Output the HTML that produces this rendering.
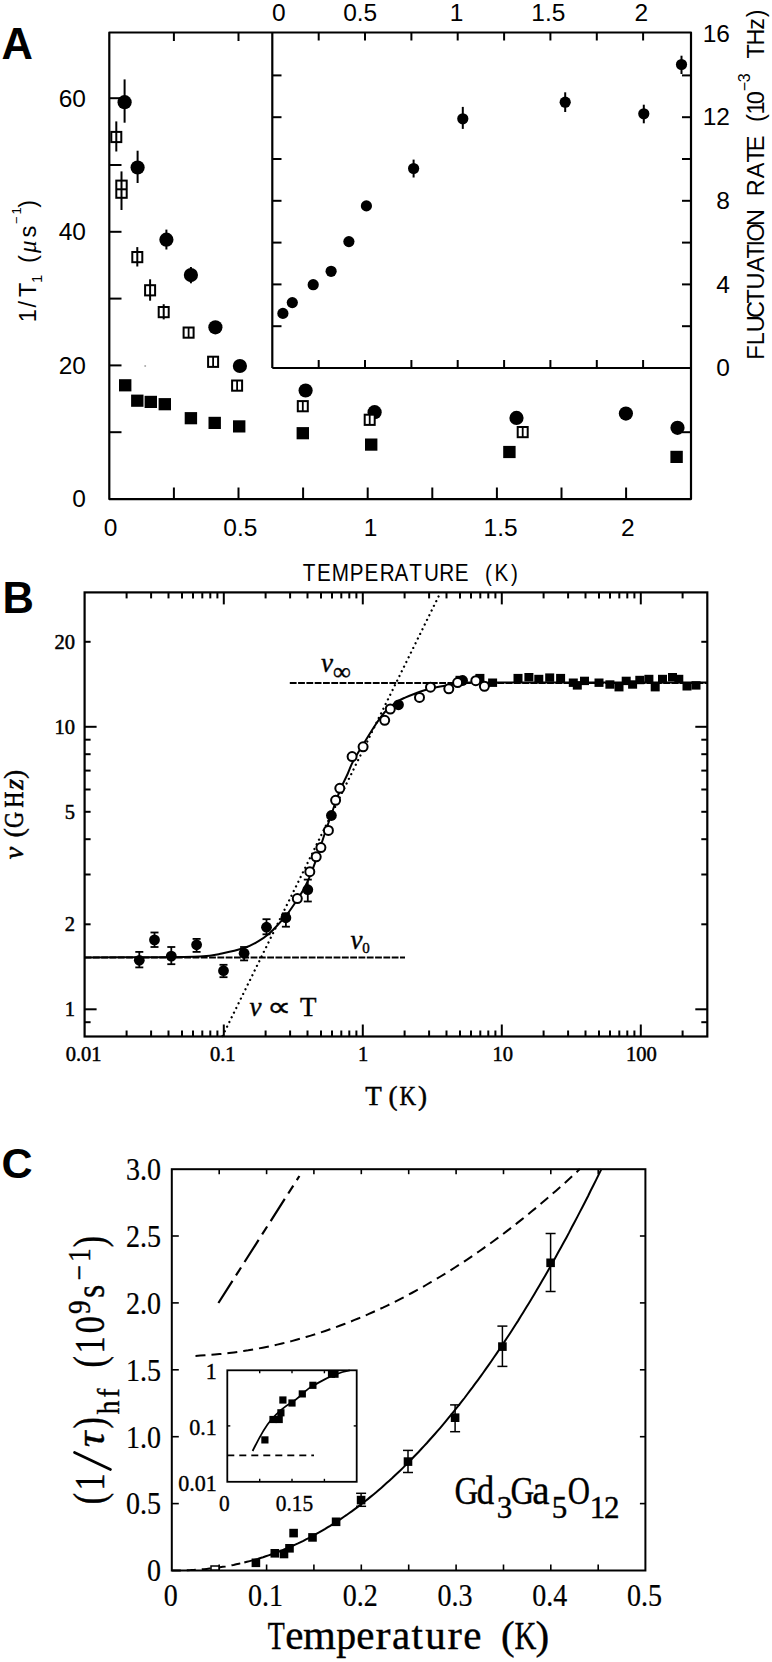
<!DOCTYPE html>
<html><head><meta charset="utf-8"><style>
html,body{margin:0;padding:0;background:#fff;}
svg{display:block;}
</style></head><body>
<svg width="772" height="1662" viewBox="0 0 772 1662">
<rect width="772" height="1662" fill="#fff"/>
<g stroke="#000" fill="none">
<rect x="109.3" y="32.5" width="581.7" height="466.6" stroke-width="2.2" stroke-linejoin="round"/>
<line x1="272.3" y1="32.5" x2="272.3" y2="368.0" stroke-width="2.2" />
<line x1="272.3" y1="368.0" x2="691.0" y2="368.0" stroke-width="2.2" />
<line x1="109.3" y1="432.2" x2="121.5" y2="432.2" stroke-width="2" />
<line x1="109.3" y1="365.4" x2="121.5" y2="365.4" stroke-width="2" />
<line x1="109.3" y1="298.6" x2="121.5" y2="298.6" stroke-width="2" />
<line x1="109.3" y1="231.8" x2="121.5" y2="231.8" stroke-width="2" />
<line x1="109.3" y1="165.0" x2="121.5" y2="165.0" stroke-width="2" />
<line x1="109.3" y1="98.2" x2="121.5" y2="98.2" stroke-width="2" />
<line x1="691.0" y1="432.2" x2="682.0" y2="432.2" stroke-width="2" />
<line x1="173.9" y1="498.7" x2="173.9" y2="487.5" stroke-width="2" />
<line x1="238.5" y1="498.7" x2="238.5" y2="487.5" stroke-width="2" />
<line x1="303.1" y1="498.7" x2="303.1" y2="487.5" stroke-width="2" />
<line x1="367.7" y1="498.7" x2="367.7" y2="487.5" stroke-width="2" />
<line x1="432.3" y1="498.7" x2="432.3" y2="487.5" stroke-width="2" />
<line x1="496.9" y1="498.7" x2="496.9" y2="487.5" stroke-width="2" />
<line x1="561.5" y1="498.7" x2="561.5" y2="487.5" stroke-width="2" />
<line x1="626.1" y1="498.7" x2="626.1" y2="487.5" stroke-width="2" />
<line x1="173.9" y1="32.5" x2="173.9" y2="41.0" stroke-width="2" />
<line x1="238.5" y1="32.5" x2="238.5" y2="41.0" stroke-width="2" />
<line x1="318.7" y1="32.5" x2="318.7" y2="40.5" stroke-width="2" />
<line x1="318.7" y1="368.0" x2="318.7" y2="360.0" stroke-width="2" />
<line x1="365.0" y1="32.5" x2="365.0" y2="40.5" stroke-width="2" />
<line x1="365.0" y1="368.0" x2="365.0" y2="360.0" stroke-width="2" />
<line x1="411.4" y1="32.5" x2="411.4" y2="40.5" stroke-width="2" />
<line x1="411.4" y1="368.0" x2="411.4" y2="360.0" stroke-width="2" />
<line x1="457.7" y1="32.5" x2="457.7" y2="40.5" stroke-width="2" />
<line x1="457.7" y1="368.0" x2="457.7" y2="360.0" stroke-width="2" />
<line x1="504.1" y1="32.5" x2="504.1" y2="40.5" stroke-width="2" />
<line x1="504.1" y1="368.0" x2="504.1" y2="360.0" stroke-width="2" />
<line x1="550.4" y1="32.5" x2="550.4" y2="40.5" stroke-width="2" />
<line x1="550.4" y1="368.0" x2="550.4" y2="360.0" stroke-width="2" />
<line x1="596.8" y1="32.5" x2="596.8" y2="40.5" stroke-width="2" />
<line x1="596.8" y1="368.0" x2="596.8" y2="360.0" stroke-width="2" />
<line x1="643.1" y1="32.5" x2="643.1" y2="40.5" stroke-width="2" />
<line x1="643.1" y1="368.0" x2="643.1" y2="360.0" stroke-width="2" />
<line x1="272.3" y1="326.2" x2="281.5" y2="326.2" stroke-width="2" />
<line x1="691.0" y1="326.2" x2="682.0" y2="326.2" stroke-width="2" />
<line x1="272.3" y1="284.4" x2="281.5" y2="284.4" stroke-width="2" />
<line x1="691.0" y1="284.4" x2="682.0" y2="284.4" stroke-width="2" />
<line x1="272.3" y1="242.6" x2="281.5" y2="242.6" stroke-width="2" />
<line x1="691.0" y1="242.6" x2="682.0" y2="242.6" stroke-width="2" />
<line x1="272.3" y1="200.8" x2="281.5" y2="200.8" stroke-width="2" />
<line x1="691.0" y1="200.8" x2="682.0" y2="200.8" stroke-width="2" />
<line x1="272.3" y1="159.0" x2="281.5" y2="159.0" stroke-width="2" />
<line x1="691.0" y1="159.0" x2="682.0" y2="159.0" stroke-width="2" />
<line x1="272.3" y1="117.2" x2="281.5" y2="117.2" stroke-width="2" />
<line x1="691.0" y1="117.2" x2="682.0" y2="117.2" stroke-width="2" />
<line x1="272.3" y1="75.4" x2="281.5" y2="75.4" stroke-width="2" />
<line x1="691.0" y1="75.4" x2="682.0" y2="75.4" stroke-width="2" />
</g>
<text x="1.6" y="58.8" font-size="43.5" font-family='"Liberation Sans", sans-serif' text-anchor="start" font-weight="bold">A</text>
<text x="86.0" y="507.4" font-size="24.5" font-family='"Liberation Sans", sans-serif' text-anchor="end" >0</text>
<text x="86.0" y="373.8" font-size="24.5" font-family='"Liberation Sans", sans-serif' text-anchor="end" >20</text>
<text x="86.0" y="240.2" font-size="24.5" font-family='"Liberation Sans", sans-serif' text-anchor="end" >40</text>
<text x="86.0" y="106.6" font-size="24.5" font-family='"Liberation Sans", sans-serif' text-anchor="end" >60</text>
<text x="110.6" y="536.3" font-size="24.5" font-family='"Liberation Sans", sans-serif' text-anchor="middle" >0</text>
<text x="240.4" y="536.3" font-size="24.5" font-family='"Liberation Sans", sans-serif' text-anchor="middle" >0.5</text>
<text x="370.6" y="536.3" font-size="24.5" font-family='"Liberation Sans", sans-serif' text-anchor="middle" >1</text>
<text x="500.6" y="536.3" font-size="24.5" font-family='"Liberation Sans", sans-serif' text-anchor="middle" >1.5</text>
<text x="627.8" y="536.3" font-size="24.5" font-family='"Liberation Sans", sans-serif' text-anchor="middle" >2</text>
<text x="278.7" y="21.2" font-size="24.5" font-family='"Liberation Sans", sans-serif' text-anchor="middle" >0</text>
<text x="360.2" y="21.2" font-size="24.5" font-family='"Liberation Sans", sans-serif' text-anchor="middle" >0.5</text>
<text x="456.6" y="21.2" font-size="24.5" font-family='"Liberation Sans", sans-serif' text-anchor="middle" >1</text>
<text x="548.3" y="21.2" font-size="24.5" font-family='"Liberation Sans", sans-serif' text-anchor="middle" >1.5</text>
<text x="641.2" y="21.2" font-size="24.5" font-family='"Liberation Sans", sans-serif' text-anchor="middle" >2</text>
<text x="730.0" y="376.2" font-size="24.5" font-family='"Liberation Sans", sans-serif' text-anchor="end" >0</text>
<text x="730.0" y="292.6" font-size="24.5" font-family='"Liberation Sans", sans-serif' text-anchor="end" >4</text>
<text x="730.0" y="209.0" font-size="24.5" font-family='"Liberation Sans", sans-serif' text-anchor="end" >8</text>
<text x="730.0" y="125.4" font-size="24.5" font-family='"Liberation Sans", sans-serif' text-anchor="end" >12</text>
<text x="730.0" y="41.8" font-size="24.5" font-family='"Liberation Sans", sans-serif' text-anchor="end" >16</text>
<g transform="translate(0,581.3)" font-family='"Liberation Sans", sans-serif' text-anchor="middle" >
<text transform="translate(309.0,0.0) scale(0.88,1)" font-size="23.5">T</text>
<text transform="translate(323.9,0.0) scale(0.88,1)" font-size="23.5">E</text>
<text transform="translate(340.4,0.0) scale(0.88,1)" font-size="23.5">M</text>
<text transform="translate(356.6,0.0) scale(0.88,1)" font-size="23.5">P</text>
<text transform="translate(371.5,0.0) scale(0.88,1)" font-size="23.5">E</text>
<text transform="translate(387.1,0.0) scale(0.88,1)" font-size="23.5">R</text>
<text transform="translate(401.5,0.0) scale(0.88,1)" font-size="23.5">A</text>
<text transform="translate(415.5,0.0) scale(0.88,1)" font-size="23.5">T</text>
<text transform="translate(431.4,0.0) scale(0.88,1)" font-size="23.5">U</text>
<text transform="translate(446.6,0.0) scale(0.88,1)" font-size="23.5">R</text>
<text transform="translate(461.7,0.0) scale(0.88,1)" font-size="23.5">E</text>
<text transform="translate(488.4,0.0) scale(0.88,1)" font-size="23.5">(</text>
<text transform="translate(501.4,0.0) scale(0.88,1)" font-size="23.5">K</text>
<text transform="translate(514.4,0.0) scale(0.88,1)" font-size="23.5">)</text>
</g>
<circle cx="145.2" cy="366" r="1" fill="#aaa"/>
<g transform="translate(36.2,320) rotate(-90)" font-family='"Liberation Sans", sans-serif' text-anchor="middle" >
<text x="4.2" y="0.0" font-size="23.5">1</text>
<text x="15.8" y="0.0" font-size="23.5">/</text>
<text x="30.1" y="0.0" font-size="23.5">T</text>
<text x="41.2" y="6.1" font-size="15">1</text>
<text x="60.9" y="0.0" font-size="23.5">(</text>
<text x="88.3" y="0.0" font-size="23.5">s</text>
<text x="99.8" y="-15.5" font-size="13">−</text>
<text x="109.1" y="-15.5" font-size="13">1</text>
<text x="116.2" y="0.0" font-size="23.5">)</text>
</g>
<g transform="translate(36.2,320) rotate(-90)" font-family='"Liberation Serif", serif' text-anchor="middle" >
<text x="73.2" y="0.0" font-size="25" font-style="italic">μ</text>
</g>
<g transform="translate(764.3,360) rotate(-90)" font-family='"Liberation Sans", sans-serif' text-anchor="middle" >
<text x="7.5" y="0.0" font-size="23.5">F</text>
<text x="21.2" y="0.0" font-size="23.5">L</text>
<text x="36.2" y="0.0" font-size="23.5">U</text>
<text x="50.4" y="0.0" font-size="23.5">C</text>
<text x="63.8" y="0.0" font-size="23.5">T</text>
<text x="79.1" y="0.0" font-size="23.5">U</text>
<text x="95.5" y="0.0" font-size="23.5">A</text>
<text x="108.6" y="0.0" font-size="23.5">T</text>
<text x="116.7" y="0.0" font-size="23.5">I</text>
<text x="127.6" y="0.0" font-size="23.5">O</text>
<text x="142.6" y="0.0" font-size="23.5">N</text>
<text x="172.3" y="0.0" font-size="23.5">R</text>
<text x="189.5" y="0.0" font-size="23.5">A</text>
<text x="204.8" y="0.0" font-size="23.5">T</text>
<text x="216.6" y="0.0" font-size="23.5">E</text>
<text x="241.9" y="0.0" font-size="23.5">(</text>
<text x="252.1" y="0.0" font-size="23.5">1</text>
<text x="262.4" y="0.0" font-size="23.5">0</text>
<text x="308.8" y="0.0" font-size="23.5">T</text>
<text x="323.0" y="0.0" font-size="23.5">H</text>
<text x="336.2" y="0.0" font-size="23.5">z</text>
<text x="346.7" y="0.0" font-size="23.5">)</text>
<text x="273.5" y="-14.2" font-size="16">−</text>
<text x="282.2" y="-14.2" font-size="16">3</text>
</g>
<g fill="#000" stroke="#000">
<line x1="124.6" y1="79.4" x2="124.6" y2="122.7" stroke-width="2" />
<circle cx="124.6" cy="102.2" r="7.1" stroke="none"/>
<line x1="137.6" y1="150.7" x2="137.6" y2="183.0" stroke-width="2" />
<circle cx="137.6" cy="167.5" r="7.1" stroke="none"/>
<line x1="166.4" y1="229.6" x2="166.4" y2="249.5" stroke-width="2" />
<circle cx="166.4" cy="239.7" r="7.1" stroke="none"/>
<line x1="190.9" y1="267.0" x2="190.9" y2="283.3" stroke-width="2" />
<circle cx="190.9" cy="275.1" r="7.1" stroke="none"/>
<circle cx="215.4" cy="327.3" r="7.1" stroke="none"/>
<circle cx="239.9" cy="366" r="7.1" stroke="none"/>
<circle cx="305.6" cy="390.5" r="7.1" stroke="none"/>
<circle cx="374.6" cy="412.2" r="7.1" stroke="none"/>
<circle cx="516.5" cy="417.9" r="7.1" stroke="none"/>
<circle cx="625.9" cy="413.6" r="7.1" stroke="none"/>
<circle cx="677.5" cy="427.8" r="7.1" stroke="none"/>
<rect x="119.0" y="379.2" width="12.4" height="12.2" stroke="none"/>
<rect x="131.1" y="394.6" width="12.4" height="12.2" stroke="none"/>
<rect x="144.6" y="395.8" width="12.4" height="12.2" stroke="none"/>
<rect x="158.6" y="398.1" width="12.4" height="12.2" stroke="none"/>
<rect x="184.7" y="412.1" width="12.4" height="12.2" stroke="none"/>
<rect x="208.5" y="416.8" width="12.4" height="12.2" stroke="none"/>
<rect x="233.0" y="420.3" width="12.4" height="12.2" stroke="none"/>
<rect x="296.6" y="427.1" width="12.4" height="12.2" stroke="none"/>
<rect x="365.0" y="438.5" width="12.4" height="12.2" stroke="none"/>
<rect x="503.2" y="445.9" width="12.4" height="12.2" stroke="none"/>
<rect x="670.4" y="450.8" width="12.4" height="12.2" stroke="none"/>
<circle cx="282.9" cy="313.4" r="5.6" stroke="none"/>
<circle cx="292.3" cy="302.6" r="5.6" stroke="none"/>
<circle cx="313.2" cy="284.7" r="5.6" stroke="none"/>
<circle cx="331.1" cy="271.3" r="5.6" stroke="none"/>
<circle cx="348.9" cy="241.6" r="5.6" stroke="none"/>
<circle cx="366.4" cy="205.9" r="5.6" stroke="none"/>
<line x1="413.6" y1="159.6" x2="413.6" y2="177.5" stroke-width="2" />
<circle cx="413.6" cy="168.5" r="5.6" stroke="none"/>
<line x1="462.8" y1="106.9" x2="462.8" y2="128.9" stroke-width="2" />
<circle cx="462.8" cy="118.8" r="5.6" stroke="none"/>
<line x1="565.2" y1="92.3" x2="565.2" y2="112.0" stroke-width="2" />
<circle cx="565.2" cy="102.2" r="5.6" stroke="none"/>
<line x1="643.8" y1="104.7" x2="643.8" y2="123.3" stroke-width="2" />
<circle cx="643.8" cy="113.8" r="5.6" stroke="none"/>
<line x1="681.5" y1="55.7" x2="681.5" y2="74.0" stroke-width="2" />
<circle cx="681.5" cy="64.5" r="5.6" stroke="none"/>
</g>
<g fill="#fff" stroke="#000">
<rect x="111.3" y="131.9" width="10" height="10.2" stroke-width="2"/>
<line x1="116.3" y1="121.4" x2="116.3" y2="151.5" stroke-width="2" />
<rect x="132.3" y="252.0" width="10" height="10.2" stroke-width="2"/>
<line x1="137.3" y1="247.1" x2="137.3" y2="266.5" stroke-width="2" />
<rect x="145.1" y="285.2" width="10" height="10.2" stroke-width="2"/>
<line x1="150.1" y1="279.3" x2="150.1" y2="300.7" stroke-width="2" />
<rect x="158.7" y="307.0" width="10" height="10.2" stroke-width="2"/>
<line x1="163.7" y1="304.2" x2="163.7" y2="319.4" stroke-width="2" />
<rect x="183.6" y="327.5" width="10" height="10.2" stroke-width="2"/>
<line x1="188.6" y1="327.5" x2="188.6" y2="337.7" stroke-width="1.8" />
<rect x="208.1" y="356.7" width="10" height="10.2" stroke-width="2"/>
<line x1="213.1" y1="356.7" x2="213.1" y2="366.9" stroke-width="1.8" />
<rect x="232.1" y="380.5" width="10" height="10.2" stroke-width="2"/>
<line x1="237.1" y1="380.5" x2="237.1" y2="390.7" stroke-width="1.8" />
<rect x="297.8" y="401.1" width="10" height="10.2" stroke-width="2"/>
<line x1="302.8" y1="401.1" x2="302.8" y2="411.3" stroke-width="1.8" />
<rect x="364.7" y="414.7" width="10" height="10.2" stroke-width="2"/>
<line x1="369.7" y1="414.7" x2="369.7" y2="424.9" stroke-width="1.8" />
<rect x="517.7" y="427.0" width="10" height="10.2" stroke-width="2"/>
<line x1="522.7" y1="427.0" x2="522.7" y2="437.2" stroke-width="1.8" />
<rect x="116.3" y="180.6" width="10.4" height="17.2" stroke-width="2"/>
<line x1="116.3" y1="189.3" x2="126.7" y2="189.3" stroke-width="2" />
<line x1="121.5" y1="171.4" x2="121.5" y2="210.0" stroke-width="2" />
</g>
<g stroke="#000" fill="none">
<rect x="84.6" y="592.4" width="622.7" height="444.1" stroke-width="2.2"/>
<line x1="126.6" y1="1036.5" x2="126.6" y2="1030.5" stroke-width="2" />
<line x1="126.6" y1="592.4" x2="126.6" y2="598.4" stroke-width="2" />
<line x1="151.1" y1="1036.5" x2="151.1" y2="1030.5" stroke-width="2" />
<line x1="151.1" y1="592.4" x2="151.1" y2="598.4" stroke-width="2" />
<line x1="168.5" y1="1036.5" x2="168.5" y2="1030.5" stroke-width="2" />
<line x1="168.5" y1="592.4" x2="168.5" y2="598.4" stroke-width="2" />
<line x1="182.0" y1="1036.5" x2="182.0" y2="1030.5" stroke-width="2" />
<line x1="182.0" y1="592.4" x2="182.0" y2="598.4" stroke-width="2" />
<line x1="193.0" y1="1036.5" x2="193.0" y2="1030.5" stroke-width="2" />
<line x1="193.0" y1="592.4" x2="193.0" y2="598.4" stroke-width="2" />
<line x1="202.3" y1="1036.5" x2="202.3" y2="1030.5" stroke-width="2" />
<line x1="202.3" y1="592.4" x2="202.3" y2="598.4" stroke-width="2" />
<line x1="210.3" y1="1036.5" x2="210.3" y2="1030.5" stroke-width="2" />
<line x1="210.3" y1="592.4" x2="210.3" y2="598.4" stroke-width="2" />
<line x1="217.4" y1="1036.5" x2="217.4" y2="1030.5" stroke-width="2" />
<line x1="217.4" y1="592.4" x2="217.4" y2="598.4" stroke-width="2" />
<line x1="223.8" y1="1036.5" x2="223.8" y2="1024.5" stroke-width="2" />
<line x1="223.8" y1="592.4" x2="223.8" y2="604.4" stroke-width="2" />
<line x1="265.6" y1="1036.5" x2="265.6" y2="1030.5" stroke-width="2" />
<line x1="265.6" y1="592.4" x2="265.6" y2="598.4" stroke-width="2" />
<line x1="290.1" y1="1036.5" x2="290.1" y2="1030.5" stroke-width="2" />
<line x1="290.1" y1="592.4" x2="290.1" y2="598.4" stroke-width="2" />
<line x1="307.5" y1="1036.5" x2="307.5" y2="1030.5" stroke-width="2" />
<line x1="307.5" y1="592.4" x2="307.5" y2="598.4" stroke-width="2" />
<line x1="321.0" y1="1036.5" x2="321.0" y2="1030.5" stroke-width="2" />
<line x1="321.0" y1="592.4" x2="321.0" y2="598.4" stroke-width="2" />
<line x1="332.0" y1="1036.5" x2="332.0" y2="1030.5" stroke-width="2" />
<line x1="332.0" y1="592.4" x2="332.0" y2="598.4" stroke-width="2" />
<line x1="341.3" y1="1036.5" x2="341.3" y2="1030.5" stroke-width="2" />
<line x1="341.3" y1="592.4" x2="341.3" y2="598.4" stroke-width="2" />
<line x1="349.3" y1="1036.5" x2="349.3" y2="1030.5" stroke-width="2" />
<line x1="349.3" y1="592.4" x2="349.3" y2="598.4" stroke-width="2" />
<line x1="356.4" y1="1036.5" x2="356.4" y2="1030.5" stroke-width="2" />
<line x1="356.4" y1="592.4" x2="356.4" y2="598.4" stroke-width="2" />
<line x1="362.8" y1="1036.5" x2="362.8" y2="1024.5" stroke-width="2" />
<line x1="362.8" y1="592.4" x2="362.8" y2="604.4" stroke-width="2" />
<line x1="404.6" y1="1036.5" x2="404.6" y2="1030.5" stroke-width="2" />
<line x1="404.6" y1="592.4" x2="404.6" y2="598.4" stroke-width="2" />
<line x1="429.1" y1="1036.5" x2="429.1" y2="1030.5" stroke-width="2" />
<line x1="429.1" y1="592.4" x2="429.1" y2="598.4" stroke-width="2" />
<line x1="446.5" y1="1036.5" x2="446.5" y2="1030.5" stroke-width="2" />
<line x1="446.5" y1="592.4" x2="446.5" y2="598.4" stroke-width="2" />
<line x1="460.0" y1="1036.5" x2="460.0" y2="1030.5" stroke-width="2" />
<line x1="460.0" y1="592.4" x2="460.0" y2="598.4" stroke-width="2" />
<line x1="471.0" y1="1036.5" x2="471.0" y2="1030.5" stroke-width="2" />
<line x1="471.0" y1="592.4" x2="471.0" y2="598.4" stroke-width="2" />
<line x1="480.3" y1="1036.5" x2="480.3" y2="1030.5" stroke-width="2" />
<line x1="480.3" y1="592.4" x2="480.3" y2="598.4" stroke-width="2" />
<line x1="488.3" y1="1036.5" x2="488.3" y2="1030.5" stroke-width="2" />
<line x1="488.3" y1="592.4" x2="488.3" y2="598.4" stroke-width="2" />
<line x1="495.4" y1="1036.5" x2="495.4" y2="1030.5" stroke-width="2" />
<line x1="495.4" y1="592.4" x2="495.4" y2="598.4" stroke-width="2" />
<line x1="501.8" y1="1036.5" x2="501.8" y2="1024.5" stroke-width="2" />
<line x1="501.8" y1="592.4" x2="501.8" y2="604.4" stroke-width="2" />
<line x1="543.6" y1="1036.5" x2="543.6" y2="1030.5" stroke-width="2" />
<line x1="543.6" y1="592.4" x2="543.6" y2="598.4" stroke-width="2" />
<line x1="568.1" y1="1036.5" x2="568.1" y2="1030.5" stroke-width="2" />
<line x1="568.1" y1="592.4" x2="568.1" y2="598.4" stroke-width="2" />
<line x1="585.5" y1="1036.5" x2="585.5" y2="1030.5" stroke-width="2" />
<line x1="585.5" y1="592.4" x2="585.5" y2="598.4" stroke-width="2" />
<line x1="599.0" y1="1036.5" x2="599.0" y2="1030.5" stroke-width="2" />
<line x1="599.0" y1="592.4" x2="599.0" y2="598.4" stroke-width="2" />
<line x1="610.0" y1="1036.5" x2="610.0" y2="1030.5" stroke-width="2" />
<line x1="610.0" y1="592.4" x2="610.0" y2="598.4" stroke-width="2" />
<line x1="619.3" y1="1036.5" x2="619.3" y2="1030.5" stroke-width="2" />
<line x1="619.3" y1="592.4" x2="619.3" y2="598.4" stroke-width="2" />
<line x1="627.3" y1="1036.5" x2="627.3" y2="1030.5" stroke-width="2" />
<line x1="627.3" y1="592.4" x2="627.3" y2="598.4" stroke-width="2" />
<line x1="634.4" y1="1036.5" x2="634.4" y2="1030.5" stroke-width="2" />
<line x1="634.4" y1="592.4" x2="634.4" y2="598.4" stroke-width="2" />
<line x1="640.8" y1="1036.5" x2="640.8" y2="1024.5" stroke-width="2" />
<line x1="640.8" y1="592.4" x2="640.8" y2="604.4" stroke-width="2" />
<line x1="682.6" y1="1036.5" x2="682.6" y2="1030.5" stroke-width="2" />
<line x1="682.6" y1="592.4" x2="682.6" y2="598.4" stroke-width="2" />
<line x1="84.6" y1="1022.2" x2="90.6" y2="1022.2" stroke-width="2" />
<line x1="707.3" y1="1022.2" x2="701.3" y2="1022.2" stroke-width="2" />
<line x1="84.6" y1="1009.3" x2="96.6" y2="1009.3" stroke-width="2" />
<line x1="707.3" y1="1009.3" x2="695.3" y2="1009.3" stroke-width="2" />
<line x1="84.6" y1="924.3" x2="90.6" y2="924.3" stroke-width="2" />
<line x1="707.3" y1="924.3" x2="701.3" y2="924.3" stroke-width="2" />
<line x1="84.6" y1="874.5" x2="90.6" y2="874.5" stroke-width="2" />
<line x1="707.3" y1="874.5" x2="701.3" y2="874.5" stroke-width="2" />
<line x1="84.6" y1="839.2" x2="90.6" y2="839.2" stroke-width="2" />
<line x1="707.3" y1="839.2" x2="701.3" y2="839.2" stroke-width="2" />
<line x1="84.6" y1="811.8" x2="90.6" y2="811.8" stroke-width="2" />
<line x1="707.3" y1="811.8" x2="701.3" y2="811.8" stroke-width="2" />
<line x1="84.6" y1="789.5" x2="90.6" y2="789.5" stroke-width="2" />
<line x1="707.3" y1="789.5" x2="701.3" y2="789.5" stroke-width="2" />
<line x1="84.6" y1="770.6" x2="90.6" y2="770.6" stroke-width="2" />
<line x1="707.3" y1="770.6" x2="701.3" y2="770.6" stroke-width="2" />
<line x1="84.6" y1="754.2" x2="90.6" y2="754.2" stroke-width="2" />
<line x1="707.3" y1="754.2" x2="701.3" y2="754.2" stroke-width="2" />
<line x1="84.6" y1="739.7" x2="90.6" y2="739.7" stroke-width="2" />
<line x1="707.3" y1="739.7" x2="701.3" y2="739.7" stroke-width="2" />
<line x1="84.6" y1="726.8" x2="96.6" y2="726.8" stroke-width="2" />
<line x1="707.3" y1="726.8" x2="695.3" y2="726.8" stroke-width="2" />
<line x1="84.6" y1="641.8" x2="90.6" y2="641.8" stroke-width="2" />
<line x1="707.3" y1="641.8" x2="701.3" y2="641.8" stroke-width="2" />
</g>
<text x="2.4" y="612.6" font-size="43.5" font-family='"Liberation Sans", sans-serif' text-anchor="start" font-weight="bold">B</text>
<text x="75.0" y="1016.3" font-size="20.5" font-family='"Liberation Serif", serif' text-anchor="end" stroke="#000" stroke-width="0.5">1</text>
<text x="75.0" y="931.3" font-size="20.5" font-family='"Liberation Serif", serif' text-anchor="end" stroke="#000" stroke-width="0.5">2</text>
<text x="75.0" y="818.8" font-size="20.5" font-family='"Liberation Serif", serif' text-anchor="end" stroke="#000" stroke-width="0.5">5</text>
<text x="75.0" y="733.8" font-size="20.5" font-family='"Liberation Serif", serif' text-anchor="end" stroke="#000" stroke-width="0.5">10</text>
<text x="75.0" y="648.8" font-size="20.5" font-family='"Liberation Serif", serif' text-anchor="end" stroke="#000" stroke-width="0.5">20</text>
<text x="83.6" y="1060.6" font-size="20.5" font-family='"Liberation Serif", serif' text-anchor="middle" stroke="#000" stroke-width="0.5">0.01</text>
<text x="222.8" y="1060.6" font-size="20.5" font-family='"Liberation Serif", serif' text-anchor="middle" stroke="#000" stroke-width="0.5">0.1</text>
<text x="363.1" y="1060.6" font-size="20.5" font-family='"Liberation Serif", serif' text-anchor="middle" stroke="#000" stroke-width="0.5">1</text>
<text x="502.8" y="1060.6" font-size="20.5" font-family='"Liberation Serif", serif' text-anchor="middle" stroke="#000" stroke-width="0.5">10</text>
<text x="641.3" y="1060.6" font-size="20.5" font-family='"Liberation Serif", serif' text-anchor="middle" stroke="#000" stroke-width="0.5">100</text>
<g transform="translate(0,1105)" font-family='"Liberation Serif", serif' text-anchor="middle" stroke="#000" stroke-width="0.5">
<text x="373.4" y="0.0" font-size="27">T</text>
<text x="393.1" y="0.0" font-size="27">(</text>
<text transform="translate(407.7,0.0) scale(0.85,1)" font-size="27">K</text>
<text x="422.4" y="0.0" font-size="27">)</text>
</g>
<g transform="translate(22.6,862) rotate(-90)" font-family='"Liberation Serif", serif' text-anchor="middle" stroke="#000" stroke-width="0.5">
<text x="8.9" y="0.0" font-size="28" font-style="italic">ν</text>
<text x="29.1" y="0.0" font-size="28">(</text>
<text transform="translate(42.0,0.0) scale(0.8,1)" font-size="28">G</text>
<text transform="translate(62.4,0.0) scale(0.8,1)" font-size="28">H</text>
<text x="77.6" y="0.0" font-size="28" font-style="italic">z</text>
<text x="87.7" y="0.0" font-size="28">)</text>
</g>
<g stroke="#000" fill="none">
<line x1="289.8" y1="682.9" x2="707.0" y2="682.9" stroke-width="2" stroke-dasharray="6.8 1.5"/>
<line x1="84.6" y1="957.5" x2="405.0" y2="957.5" stroke-width="2" stroke-dasharray="6.8 1.5"/>
<line x1="222.5" y1="1036.0" x2="440.5" y2="592.5" stroke-width="2.3" stroke-dasharray="0.01 5.2" stroke-linecap="round"/>
<path d="M84.6,957.4 C95.5,957.4 130.8,957.4 150.0,957.2 C169.2,957.1 188.0,957.1 200.0,956.5 C212.0,955.9 214.5,955.0 221.9,953.5 C229.3,952.0 238.7,949.7 244.6,947.8 C250.5,945.9 253.2,944.2 257.3,941.9 C261.4,939.6 265.4,936.9 269.0,933.8 C272.6,930.7 276.1,926.8 279.2,923.4 C282.3,920.0 284.8,917.2 287.6,913.6 C290.4,910.0 293.2,905.8 296.0,901.5 C298.8,897.2 301.9,892.7 304.4,888.0 C306.9,883.3 309.1,878.2 311.0,873.5 C312.9,868.8 314.3,864.8 316.0,860.0 C317.7,855.2 319.3,850.0 321.0,845.0 C322.7,840.0 324.3,834.9 326.0,830.0 C327.7,825.1 329.3,820.3 331.0,815.5 C332.7,810.7 334.3,805.6 336.0,801.0 C337.7,796.4 339.1,792.5 341.0,788.0 C342.9,783.5 345.6,778.4 347.6,774.0 C349.6,769.6 350.4,766.4 353.0,761.5 C355.6,756.6 359.4,750.6 363.1,744.5 C366.9,738.4 371.9,730.2 375.5,724.8 C379.1,719.4 381.5,715.7 384.9,712.0 C388.3,708.3 392.4,704.9 395.8,702.5 C399.2,700.1 401.7,699.1 405.1,697.6 C408.5,696.1 412.6,694.5 416.0,693.2 C419.4,691.9 421.7,691.0 425.3,690.0 C428.9,689.0 434.1,687.8 437.7,687.0 C441.3,686.2 443.9,685.9 447.0,685.3 C450.1,684.7 452.6,684.0 456.4,683.6 C460.2,683.2 462.7,682.8 470.0,682.6 C477.3,682.4 460.5,682.4 500.0,682.4 C539.5,682.4 672.5,682.4 707.0,682.4" stroke-width="2"/>
</g>
<text x="321" y="672" font-size="27" stroke="#000" stroke-width="0.4" font-family='"Liberation Serif", serif' font-style="italic">ν<tspan font-style="normal" font-size="25" dy="7.5">∞</tspan></text>
<g transform="translate(0,0)" font-family='"Liberation Serif", serif' text-anchor="middle" stroke="#000" stroke-width="0.4">
<text x="356.5" y="948.8" font-size="27" font-style="italic">ν</text>
<text x="365.9" y="953.4" font-size="15">0</text>
</g>
<g transform="translate(0,1016)" font-family='"Liberation Serif", serif' text-anchor="middle" stroke="#000" stroke-width="0.4">
<text x="255.5" y="0.0" font-size="27" font-style="italic">ν</text>
<text transform="translate(279.6,0.0) scale(1.25,1)" font-size="27">∝</text>
<text x="308.3" y="0.0" font-size="27">T</text>
</g>
<g fill="#000" stroke="#000">
<line x1="139.3" y1="951.9" x2="139.3" y2="967.4" stroke-width="1.8" />
<line x1="135.3" y1="951.9" x2="143.3" y2="951.9" stroke-width="1.8" />
<line x1="135.3" y1="967.4" x2="143.3" y2="967.4" stroke-width="1.8" />
<circle cx="139.3" cy="960.3" r="5.4" stroke="none"/>
<line x1="154.5" y1="932.5" x2="154.5" y2="947.0" stroke-width="1.8" />
<line x1="150.5" y1="932.5" x2="158.5" y2="932.5" stroke-width="1.8" />
<line x1="150.5" y1="947.0" x2="158.5" y2="947.0" stroke-width="1.8" />
<circle cx="154.5" cy="939.9" r="5.4" stroke="none"/>
<line x1="171.3" y1="947.0" x2="171.3" y2="964.2" stroke-width="1.8" />
<line x1="167.3" y1="947.0" x2="175.3" y2="947.0" stroke-width="1.8" />
<line x1="167.3" y1="964.2" x2="175.3" y2="964.2" stroke-width="1.8" />
<circle cx="171.3" cy="956.1" r="5.4" stroke="none"/>
<line x1="196.6" y1="938.9" x2="196.6" y2="951.9" stroke-width="1.8" />
<line x1="192.6" y1="938.9" x2="200.6" y2="938.9" stroke-width="1.8" />
<line x1="192.6" y1="951.9" x2="200.6" y2="951.9" stroke-width="1.8" />
<circle cx="196.6" cy="944.8" r="5.4" stroke="none"/>
<line x1="223.5" y1="964.8" x2="223.5" y2="977.2" stroke-width="1.8" />
<line x1="219.5" y1="964.8" x2="227.5" y2="964.8" stroke-width="1.8" />
<line x1="219.5" y1="977.2" x2="227.5" y2="977.2" stroke-width="1.8" />
<circle cx="223.5" cy="970.7" r="5.4" stroke="none"/>
<line x1="244.1" y1="947.0" x2="244.1" y2="960.4" stroke-width="1.8" />
<line x1="240.1" y1="947.0" x2="248.1" y2="947.0" stroke-width="1.8" />
<line x1="240.1" y1="960.4" x2="248.1" y2="960.4" stroke-width="1.8" />
<circle cx="244.1" cy="953.2" r="5.4" stroke="none"/>
<line x1="266.5" y1="919.2" x2="266.5" y2="934.3" stroke-width="1.8" />
<line x1="262.5" y1="919.2" x2="270.5" y2="919.2" stroke-width="1.8" />
<line x1="262.5" y1="934.3" x2="270.5" y2="934.3" stroke-width="1.8" />
<circle cx="266.5" cy="927.2" r="5.4" stroke="none"/>
<line x1="285.9" y1="913.3" x2="285.9" y2="926.7" stroke-width="1.8" />
<line x1="281.9" y1="913.3" x2="289.9" y2="913.3" stroke-width="1.8" />
<line x1="281.9" y1="926.7" x2="289.9" y2="926.7" stroke-width="1.8" />
<circle cx="285.9" cy="917.8" r="5.4" stroke="none"/>
<line x1="307.8" y1="879.6" x2="307.8" y2="901.5" stroke-width="1.8" />
<line x1="303.8" y1="879.6" x2="311.8" y2="879.6" stroke-width="1.8" />
<line x1="303.8" y1="901.5" x2="311.8" y2="901.5" stroke-width="1.8" />
<circle cx="307.8" cy="889.7" r="5.4" stroke="none"/>
<circle cx="331.4" cy="815.5" r="5.4" stroke="none"/>
<circle cx="398.5" cy="704.8" r="5.4" stroke="none"/>
<circle cx="462.6" cy="680.5" r="5.4" stroke="none"/>
<rect x="455.5" y="675.8" width="9" height="8.4" stroke="none"/>
<rect x="475.4" y="673.9" width="9" height="8.4" stroke="none"/>
<rect x="488.1" y="678.5" width="9" height="8.4" stroke="none"/>
<rect x="513.5" y="673.9" width="9" height="8.4" stroke="none"/>
<rect x="524.4" y="673.0" width="9" height="8.4" stroke="none"/>
<rect x="534.3" y="674.8" width="9" height="8.4" stroke="none"/>
<rect x="545.2" y="673.4" width="9" height="8.4" stroke="none"/>
<rect x="556.1" y="673.9" width="9" height="8.4" stroke="none"/>
<rect x="568.8" y="678.5" width="9" height="8.4" stroke="none"/>
<rect x="572.8" y="681.2" width="9" height="8.4" stroke="none"/>
<rect x="580.0" y="676.7" width="9" height="8.4" stroke="none"/>
<rect x="594.5" y="678.5" width="9" height="8.4" stroke="none"/>
<rect x="605.4" y="680.3" width="9" height="8.4" stroke="none"/>
<rect x="614.5" y="683.0" width="9" height="8.4" stroke="none"/>
<rect x="621.7" y="676.7" width="9" height="8.4" stroke="none"/>
<rect x="628.1" y="680.3" width="9" height="8.4" stroke="none"/>
<rect x="635.3" y="675.8" width="9" height="8.4" stroke="none"/>
<rect x="644.4" y="674.8" width="9" height="8.4" stroke="none"/>
<rect x="650.7" y="683.0" width="9" height="8.4" stroke="none"/>
<rect x="658.0" y="674.8" width="9" height="8.4" stroke="none"/>
<rect x="668.0" y="673.0" width="9" height="8.4" stroke="none"/>
<rect x="674.3" y="674.8" width="9" height="8.4" stroke="none"/>
<rect x="682.5" y="682.1" width="9" height="8.4" stroke="none"/>
<rect x="691.5" y="681.2" width="9" height="8.4" stroke="none"/>
</g>
<g fill="#fff" stroke="#000">
<circle cx="297.3" cy="898.6" r="4.5" stroke-width="2"/>
<circle cx="309.8" cy="871.7" r="4.5" stroke-width="2"/>
<circle cx="316.2" cy="856.8" r="4.5" stroke-width="2"/>
<circle cx="320.9" cy="847.6" r="4.5" stroke-width="2"/>
<circle cx="328.4" cy="830.4" r="4.5" stroke-width="2"/>
<circle cx="335.6" cy="800.3" r="4.5" stroke-width="2"/>
<circle cx="339.8" cy="788.3" r="4.5" stroke-width="2"/>
<circle cx="352.1" cy="756.6" r="4.5" stroke-width="2"/>
<circle cx="363.1" cy="746.8" r="4.5" stroke-width="2"/>
<circle cx="384.7" cy="720.3" r="4.5" stroke-width="2"/>
<circle cx="390.3" cy="709" r="4.5" stroke-width="2"/>
<circle cx="419.5" cy="697.4" r="4.5" stroke-width="2"/>
<circle cx="430.5" cy="687.2" r="4.5" stroke-width="2"/>
<circle cx="448.8" cy="688.8" r="4.5" stroke-width="2"/>
<circle cx="457.6" cy="682.6" r="4.5" stroke-width="2"/>
<circle cx="475.8" cy="680.7" r="4.5" stroke-width="2"/>
<circle cx="484.4" cy="686.3" r="4.5" stroke-width="2"/>
</g>
<g stroke="#000" fill="none">
<rect x="171.8" y="1169.2" width="473.6" height="401.3" stroke-width="2"/>
<line x1="219.2" y1="1570.5" x2="219.2" y2="1564.5" stroke-width="1.6" />
<line x1="219.2" y1="1169.2" x2="219.2" y2="1174.2" stroke-width="1.6" />
<line x1="266.6" y1="1570.5" x2="266.6" y2="1564.5" stroke-width="1.6" />
<line x1="266.6" y1="1169.2" x2="266.6" y2="1174.2" stroke-width="1.6" />
<line x1="313.9" y1="1570.5" x2="313.9" y2="1564.5" stroke-width="1.6" />
<line x1="313.9" y1="1169.2" x2="313.9" y2="1174.2" stroke-width="1.6" />
<line x1="361.3" y1="1570.5" x2="361.3" y2="1564.5" stroke-width="1.6" />
<line x1="361.3" y1="1169.2" x2="361.3" y2="1174.2" stroke-width="1.6" />
<line x1="408.7" y1="1570.5" x2="408.7" y2="1564.5" stroke-width="1.6" />
<line x1="408.7" y1="1169.2" x2="408.7" y2="1174.2" stroke-width="1.6" />
<line x1="456.1" y1="1570.5" x2="456.1" y2="1564.5" stroke-width="1.6" />
<line x1="456.1" y1="1169.2" x2="456.1" y2="1174.2" stroke-width="1.6" />
<line x1="503.5" y1="1570.5" x2="503.5" y2="1564.5" stroke-width="1.6" />
<line x1="503.5" y1="1169.2" x2="503.5" y2="1174.2" stroke-width="1.6" />
<line x1="550.8" y1="1570.5" x2="550.8" y2="1564.5" stroke-width="1.6" />
<line x1="550.8" y1="1169.2" x2="550.8" y2="1174.2" stroke-width="1.6" />
<line x1="598.2" y1="1570.5" x2="598.2" y2="1564.5" stroke-width="1.6" />
<line x1="598.2" y1="1169.2" x2="598.2" y2="1174.2" stroke-width="1.6" />
<line x1="171.8" y1="1503.6" x2="178.8" y2="1503.6" stroke-width="1.6" />
<line x1="645.4" y1="1503.6" x2="639.9" y2="1503.6" stroke-width="1.6" />
<line x1="171.8" y1="1436.7" x2="178.8" y2="1436.7" stroke-width="1.6" />
<line x1="645.4" y1="1436.7" x2="639.9" y2="1436.7" stroke-width="1.6" />
<line x1="171.8" y1="1369.8" x2="178.8" y2="1369.8" stroke-width="1.6" />
<line x1="645.4" y1="1369.8" x2="639.9" y2="1369.8" stroke-width="1.6" />
<line x1="171.8" y1="1302.9" x2="178.8" y2="1302.9" stroke-width="1.6" />
<line x1="645.4" y1="1302.9" x2="639.9" y2="1302.9" stroke-width="1.6" />
<line x1="171.8" y1="1236.0" x2="178.8" y2="1236.0" stroke-width="1.6" />
<line x1="645.4" y1="1236.0" x2="639.9" y2="1236.0" stroke-width="1.6" />
</g>
<text x="1.6" y="1177.6" font-size="43" font-family='"Liberation Sans", sans-serif' text-anchor="start" font-weight="bold">C</text>
<text transform="translate(161.0,1581.3) scale(1.0,1.14)" font-size="28" font-family='"Liberation Serif", serif' text-anchor="end" stroke="#000" stroke-width="0.2">0</text>
<text transform="translate(161.0,1514.4) scale(1.0,1.14)" font-size="28" font-family='"Liberation Serif", serif' text-anchor="end" stroke="#000" stroke-width="0.2">0.5</text>
<text transform="translate(161.0,1447.5) scale(1.0,1.14)" font-size="28" font-family='"Liberation Serif", serif' text-anchor="end" stroke="#000" stroke-width="0.2">1.0</text>
<text transform="translate(161.0,1380.6) scale(1.0,1.14)" font-size="28" font-family='"Liberation Serif", serif' text-anchor="end" stroke="#000" stroke-width="0.2">1.5</text>
<text transform="translate(161.0,1313.7) scale(1.0,1.14)" font-size="28" font-family='"Liberation Serif", serif' text-anchor="end" stroke="#000" stroke-width="0.2">2.0</text>
<text transform="translate(161.0,1246.8) scale(1.0,1.14)" font-size="28" font-family='"Liberation Serif", serif' text-anchor="end" stroke="#000" stroke-width="0.2">2.5</text>
<text transform="translate(161.0,1179.9) scale(1.0,1.14)" font-size="28" font-family='"Liberation Serif", serif' text-anchor="end" stroke="#000" stroke-width="0.2">3.0</text>
<text transform="translate(170.8,1605.6) scale(1.0,1.14)" font-size="28" font-family='"Liberation Serif", serif' text-anchor="middle" stroke="#000" stroke-width="0.2">0</text>
<text transform="translate(265.6,1605.6) scale(1.0,1.14)" font-size="28" font-family='"Liberation Serif", serif' text-anchor="middle" stroke="#000" stroke-width="0.2">0.1</text>
<text transform="translate(360.3,1605.6) scale(1.0,1.14)" font-size="28" font-family='"Liberation Serif", serif' text-anchor="middle" stroke="#000" stroke-width="0.2">0.2</text>
<text transform="translate(455.1,1605.6) scale(1.0,1.14)" font-size="28" font-family='"Liberation Serif", serif' text-anchor="middle" stroke="#000" stroke-width="0.2">0.3</text>
<text transform="translate(549.8,1605.6) scale(1.0,1.14)" font-size="28" font-family='"Liberation Serif", serif' text-anchor="middle" stroke="#000" stroke-width="0.2">0.4</text>
<text transform="translate(644.6,1605.6) scale(1.0,1.14)" font-size="28" font-family='"Liberation Serif", serif' text-anchor="middle" stroke="#000" stroke-width="0.2">0.5</text>
<g transform="translate(0,1649.3)" font-family='"Liberation Serif", serif' text-anchor="middle" stroke="#000" stroke-width="0.4">
<text transform="translate(276.3,0.0) scale(0.68,1)" font-size="41">T</text>
<text x="294.4" y="0.0" font-size="41">e</text>
<text transform="translate(319.3,0.0) scale(1.03,1)" font-size="41">m</text>
<text transform="translate(346.1,0.0) scale(0.97,1)" font-size="41">p</text>
<text x="365.3" y="0.0" font-size="41">e</text>
<text transform="translate(383.1,0.0) scale(1.1,1)" font-size="41">r</text>
<text x="401.0" y="0.0" font-size="41">a</text>
<text x="417.1" y="0.0" font-size="41">t</text>
<text x="435.5" y="0.0" font-size="41">u</text>
<text transform="translate(454.7,0.0) scale(1.05,1)" font-size="41">r</text>
<text x="472.3" y="0.0" font-size="41">e</text>
<text x="507.8" y="0.0" font-size="41">(</text>
<text transform="translate(525.5,0.0) scale(0.74,1)" font-size="41">K</text>
<text x="542.3" y="0.0" font-size="41">)</text>
</g>
<g transform="translate(104.2,1503) rotate(-90)" font-family='"Liberation Serif", serif' text-anchor="middle" stroke="#000" stroke-width="0.4">
<text transform="translate(4.3,0.0) scale(0.85,1.12)" font-size="40">(</text>
<text transform="translate(21.1,0.0) scale(0.85,1.08)" font-size="40">1</text>
<text transform="translate(63.6,0.0) scale(1.1,1.0)" font-size="40" font-style="italic">τ</text>
<text transform="translate(80.2,0.0) scale(0.85,1.12)" font-size="40">)</text>
<text transform="translate(95.6,14.7) scale(0.85,1)" font-size="32">h</text>
<text transform="translate(110.0,14.7) scale(0.85,1)" font-size="32">f</text>
<text transform="translate(141.2,0.0) scale(0.85,1.12)" font-size="40">(</text>
<text transform="translate(157.9,0.0) scale(0.85,1.08)" font-size="40">1</text>
<text transform="translate(178.2,0.0) scale(0.85,1.08)" font-size="40">0</text>
<text transform="translate(195.8,-14.0) scale(0.85,1)" font-size="32">9</text>
<text transform="translate(211.6,0.0) scale(0.85,1.05)" font-size="40">s</text>
<text transform="translate(230.1,-14.2) scale(0.85,1)" font-size="32">−</text>
<text transform="translate(247.7,-14.2) scale(0.85,1)" font-size="32">1</text>
<text transform="translate(261.3,0.0) scale(0.85,1.12)" font-size="40">)</text>
</g>
<line x1="74.5" y1="1452.5" x2="110.5" y2="1469.5" stroke="#000" stroke-width="2.7" stroke-linecap="round"/>
<g transform="translate(0,1503.5)" font-family='"Liberation Serif", serif' text-anchor="middle" stroke="#000" stroke-width="0.4">
<text transform="translate(466.3,0.0) scale(0.8,1)" font-size="41">G</text>
<text transform="translate(485.5,0.0) scale(0.85,1)" font-size="41">d</text>
<text x="504.5" y="14.0" font-size="31">3</text>
<text transform="translate(522.3,0.0) scale(0.8,1)" font-size="41">G</text>
<text transform="translate(541.0,0.0) scale(0.95,1)" font-size="41">a</text>
<text x="559.6" y="14.0" font-size="31">5</text>
<text transform="translate(578.9,0.0) scale(0.75,1)" font-size="41">O</text>
<text x="597.5" y="14.5" font-size="31">1</text>
<text x="611.7" y="14.5" font-size="31">2</text>
</g>
<g stroke="#000" fill="none">
<line x1="218.4" y1="1303.0" x2="299.4" y2="1176.0" stroke-width="2.2" stroke-dasharray="26.2 6.5 9.4 6.5"/>
<polyline points="195.5,1355.9 200.3,1355.6 205.1,1355.3 209.9,1354.9 214.7,1354.5 219.5,1354.1 224.3,1353.6 229.1,1353.0 233.9,1352.4 238.7,1351.7 243.5,1351.0 248.3,1350.3 253.1,1349.4 257.9,1348.6 262.7,1347.7 267.6,1346.7 272.4,1345.7 277.2,1344.6 282.0,1343.5 286.8,1342.3 291.6,1341.1 296.4,1339.8 301.2,1338.4 306.0,1337.0 310.8,1335.6 315.6,1334.1 320.4,1332.6 325.2,1331.0 330.0,1329.3 334.8,1327.6 339.6,1325.8 344.4,1324.0 349.2,1322.2 354.0,1320.2 358.8,1318.3 363.6,1316.2 368.4,1314.2 373.2,1312.0 378.0,1309.8 382.9,1307.6 387.7,1305.3 392.5,1303.0 397.3,1300.6 402.1,1298.1 406.9,1295.6 411.7,1293.0 416.5,1290.4 421.3,1287.8 426.1,1285.0 430.9,1282.2 435.7,1279.4 440.5,1276.5 445.3,1273.6 450.1,1270.6 454.9,1267.5 459.7,1264.4 464.5,1261.3 469.3,1258.1 474.1,1254.8 478.9,1251.5 483.7,1248.1 488.5,1244.7 493.3,1241.2 498.2,1237.6 503.0,1234.1 507.8,1230.4 512.6,1226.7 517.4,1222.9 522.2,1219.1 527.0,1215.3 531.8,1211.3 536.6,1207.4 541.4,1203.3 546.2,1199.2 551.0,1195.1 555.8,1190.9 560.6,1186.7 565.4,1182.4 570.2,1178.0 575.0,1173.6 579.8,1169.1" stroke-width="2" stroke-dasharray="10 6"/>
<polyline points="171.8,1570.5 174.5,1570.5 177.2,1570.5 179.9,1570.4 182.5,1570.4 185.2,1570.3 187.9,1570.2 190.6,1570.1 193.3,1569.9 196.0,1569.8 198.6,1569.6 201.3,1569.4 204.0,1569.2 206.7,1568.9 209.4,1568.6 212.1,1568.3 214.8,1568.0 217.4,1567.6 220.1,1567.2 222.8,1566.8 225.5,1566.4 228.2,1565.9 230.9,1565.4 233.6,1564.9 236.2,1564.3 238.9,1563.7 241.6,1563.1 244.3,1562.5" stroke-width="2" stroke-dasharray="9 6"/>
<polyline points="244.3,1562.5 247.0,1561.8 249.7,1561.1 252.3,1560.4 255.0,1559.6 257.7,1558.9 260.4,1558.0 263.1,1557.2 265.8,1556.3 268.5,1555.4 271.1,1554.5 273.8,1553.5 276.5,1552.5 279.2,1551.5 281.9,1550.4 284.6,1549.3 287.3,1548.2 289.9,1547.1 292.6,1545.9 295.3,1544.6 298.0,1543.4 300.7,1542.1 303.4,1540.8 306.0,1539.4 308.7,1538.1 311.4,1536.6 314.1,1535.2 316.8,1533.7 319.5,1532.2 322.2,1530.6 324.8,1529.1 327.5,1527.4 330.2,1525.8 332.9,1524.1 335.6,1522.4 338.3,1520.6 340.9,1518.9 343.6,1517.0 346.3,1515.2 349.0,1513.3 351.7,1511.4 354.4,1509.4 357.1,1507.4 359.7,1505.4 362.4,1503.3 365.1,1501.2 367.8,1499.1 370.5,1496.9 373.2,1494.7 375.9,1492.5 378.5,1490.2 381.2,1487.9 383.9,1485.5 386.6,1483.1 389.3,1480.7 392.0,1478.3 394.6,1475.8 397.3,1473.2 400.0,1470.7 402.7,1468.1 405.4,1465.4 408.1,1462.8 410.8,1460.0 413.4,1457.3 416.1,1454.5 418.8,1451.7 421.5,1448.8 424.2,1445.9 426.9,1443.0 429.5,1440.0 432.2,1437.0 434.9,1434.0 437.6,1430.9 440.3,1427.8 443.0,1424.6 445.7,1421.4 448.3,1418.2 451.0,1414.9 453.7,1411.6 456.4,1408.2 459.1,1404.9 461.8,1401.4 464.5,1398.0 467.1,1394.5 469.8,1390.9 472.5,1387.4 475.2,1383.7 477.9,1380.1 480.6,1376.4 483.2,1372.7 485.9,1368.9 488.6,1365.1 491.3,1361.2 494.0,1357.3 496.7,1353.4 499.4,1349.4 502.0,1345.4 504.7,1341.4 507.4,1337.3 510.1,1333.2 512.8,1329.0 515.5,1324.8 518.2,1320.6 520.8,1316.3 523.5,1312.0 526.2,1307.6 528.9,1303.2 531.6,1298.8 534.3,1294.3 536.9,1289.8 539.6,1285.2 542.3,1280.6 545.0,1276.0 547.7,1271.3 550.4,1266.6 553.1,1261.8 555.7,1257.0 558.4,1252.1 561.1,1247.3 563.8,1242.3 566.5,1237.4 569.2,1232.4 571.8,1227.3 574.5,1222.2 577.2,1217.1 579.9,1211.9 582.6,1206.7 585.3,1201.5 588.0,1196.2 590.6,1190.8 593.3,1185.5 596.0,1180.1 598.7,1174.6 601.4,1169.1" stroke-width="2"/>
</g>
<g fill="#000" stroke="#000">
<rect x="251.6" y="1558.5" width="8.6" height="8.6" stroke="none"/>
<rect x="270.5" y="1549.0" width="8.6" height="8.6" stroke="none"/>
<rect x="279.7" y="1549.7" width="8.6" height="8.6" stroke="none"/>
<rect x="285.2" y="1544.0" width="8.6" height="8.6" stroke="none"/>
<rect x="289.3" y="1528.8" width="8.6" height="8.6" stroke="none"/>
<rect x="308.2" y="1533.1" width="8.6" height="8.6" stroke="none"/>
<rect x="331.8" y="1517.5" width="8.6" height="8.6" stroke="none"/>
<line x1="361.1" y1="1493.3" x2="361.1" y2="1506.3" stroke-width="1.5" />
<line x1="356.1" y1="1493.3" x2="366.1" y2="1493.3" stroke-width="1.5" />
<line x1="356.1" y1="1506.3" x2="366.1" y2="1506.3" stroke-width="1.5" />
<rect x="356.8" y="1495.8" width="8.6" height="8.6" stroke="none"/>
<line x1="408.0" y1="1450.4" x2="408.0" y2="1472.5" stroke-width="1.5" />
<line x1="403.0" y1="1450.4" x2="413.0" y2="1450.4" stroke-width="1.5" />
<line x1="403.0" y1="1472.5" x2="413.0" y2="1472.5" stroke-width="1.5" />
<rect x="403.7" y="1457.3" width="8.6" height="8.6" stroke="none"/>
<line x1="455.1" y1="1404.9" x2="455.1" y2="1431.7" stroke-width="1.5" />
<line x1="450.1" y1="1404.9" x2="460.1" y2="1404.9" stroke-width="1.5" />
<line x1="450.1" y1="1431.7" x2="460.1" y2="1431.7" stroke-width="1.5" />
<rect x="450.8" y="1413.4" width="8.6" height="8.6" stroke="none"/>
<line x1="502.4" y1="1326.1" x2="502.4" y2="1366.4" stroke-width="1.5" />
<line x1="497.4" y1="1326.1" x2="507.4" y2="1326.1" stroke-width="1.5" />
<line x1="497.4" y1="1366.4" x2="507.4" y2="1366.4" stroke-width="1.5" />
<rect x="498.1" y="1342.3" width="8.6" height="8.6" stroke="none"/>
<line x1="550.6" y1="1233.5" x2="550.6" y2="1291.5" stroke-width="1.5" />
<line x1="545.6" y1="1233.5" x2="555.6" y2="1233.5" stroke-width="1.5" />
<line x1="545.6" y1="1291.5" x2="555.6" y2="1291.5" stroke-width="1.5" />
<rect x="546.3" y="1258.5" width="8.6" height="8.6" stroke="none"/>
</g>
<rect x="211" y="1566" width="8" height="4" fill="#fff" stroke="#000" stroke-width="1.5"/>
<g stroke="#000" fill="none">
<rect x="227.3" y="1370.3" width="129.4" height="111.5" stroke-width="1.8"/>
<line x1="259.7" y1="1370.3" x2="259.7" y2="1373.3" stroke-width="1.4" />
<line x1="259.7" y1="1481.8" x2="259.7" y2="1478.8" stroke-width="1.4" />
<line x1="292.0" y1="1370.3" x2="292.0" y2="1373.3" stroke-width="1.4" />
<line x1="292.0" y1="1481.8" x2="292.0" y2="1478.8" stroke-width="1.4" />
<line x1="324.4" y1="1370.3" x2="324.4" y2="1373.3" stroke-width="1.4" />
<line x1="324.4" y1="1481.8" x2="324.4" y2="1478.8" stroke-width="1.4" />
<line x1="227.3" y1="1425.9" x2="230.3" y2="1425.9" stroke-width="1.4" />
<line x1="356.7" y1="1425.9" x2="353.7" y2="1425.9" stroke-width="1.4" />
<line x1="227.3" y1="1455.4" x2="314.0" y2="1455.4" stroke-width="1.6" stroke-dasharray="7 5"/>
<path d="M252.6,1451 C258,1440 264,1428 271,1420 S282,1408 290.8,1403 S305,1390 312.9,1385.8 S333,1373 349.8,1370.3" stroke-width="1.8"/>
</g>
<text transform="translate(216.8,1379.4) scale(1.05,1.1)" font-size="21" font-family='"Liberation Serif", serif' text-anchor="end" stroke="#000" stroke-width="0.35">1</text>
<text transform="translate(216.8,1435.2) scale(1.05,1.1)" font-size="21" font-family='"Liberation Serif", serif' text-anchor="end" stroke="#000" stroke-width="0.35">0.1</text>
<text transform="translate(216.8,1491.3) scale(1.05,1.1)" font-size="21" font-family='"Liberation Serif", serif' text-anchor="end" stroke="#000" stroke-width="0.35">0.01</text>
<text transform="translate(224.4,1511.2) scale(1.02,1.13)" font-size="21" font-family='"Liberation Serif", serif' text-anchor="middle" stroke="#000" stroke-width="0.35">0</text>
<text transform="translate(294.5,1511.2) scale(1.02,1.13)" font-size="21" font-family='"Liberation Serif", serif' text-anchor="middle" stroke="#000" stroke-width="0.35">0.15</text>
<g fill="#000">
<rect x="261.3" y="1436.3" width="7.2" height="7.2"/>
<rect x="269.4" y="1415.9" width="7.2" height="7.2"/>
<rect x="275.6" y="1415.9" width="7.2" height="7.2"/>
<rect x="277.3" y="1409.2" width="7.2" height="7.2"/>
<rect x="279.3" y="1396.4" width="7.2" height="7.2"/>
<rect x="288.4" y="1399.4" width="7.2" height="7.2"/>
<rect x="298.7" y="1390.3" width="7.2" height="7.2"/>
<rect x="309.3" y="1381.7" width="7.2" height="7.2"/>
<rect x="327.9" y="1370.6" width="7.2" height="7.2"/>
<rect x="331.4" y="1370.6" width="7.2" height="7.2"/>
</g>
</svg>
</body></html>
